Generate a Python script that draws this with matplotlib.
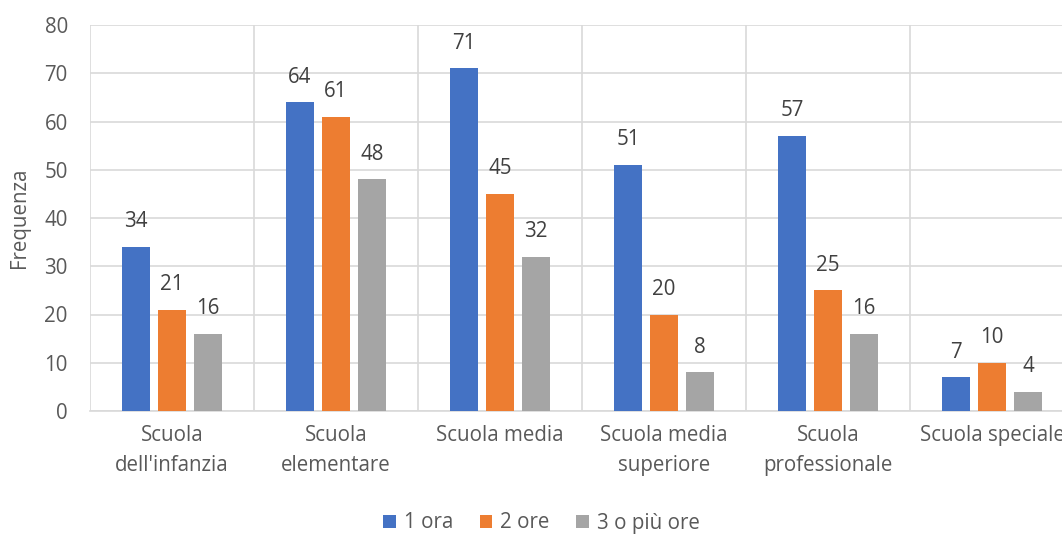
import matplotlib.pyplot as plt
import numpy as np

categories = [
    "Scuola\ndell'infanzia",
    "Scuola\nelementare",
    "Scuola media",
    "Scuola media\nsuperiore",
    "Scuola\nprofessionale",
    "Scuola speciale",
]
series_names = ["1 ora", "2 ore", "3 o più ore"]
one_hour = [34, 64, 71, 51, 57, 7]
two_hours = [21, 61, 45, 20, 25, 10]
three_plus = [16, 48, 32, 8, 16, 4]
y_ticks = [0, 10, 20, 30, 40, 50, 60, 70, 80]

COLORS = ["#4472C4", "#ED7D31", "#A5A5A5"]
TEXT = "#595959"
GRID = "#D9D9D9"
FS = 14.8

plt.rcParams["font.family"] = ["Open Sans", "DejaVu Sans"]

fig = plt.figure(figsize=(10.62, 5.35), dpi=100)
# axes run past the right edge, as in the cropped original
ax = fig.add_axes([90 / 1062, 124 / 535, 984 / 1062, 386 / 535])

x = np.arange(len(categories))
width = 28 / 164
step = 36 / 164
for i, (name, vals) in enumerate(zip(series_names, [one_hour, two_hours, three_plus])):
    pos = x + (i - 1) * step
    bars = ax.bar(pos, vals, width=width, color=COLORS[i], label=name, zorder=3)
    for b, v in zip(bars, vals):
        ax.text(b.get_x() + b.get_width() / 2, v + 3.0, str(v),
                ha="center", va="bottom", fontsize=FS, color="#404040")

ax.set_xlim(-0.5, len(categories) - 0.5)
ax.set_ylim(0, 80)
ax.set_yticks(y_ticks)
ax.yaxis.grid(True, color=GRID, linewidth=1.2, zorder=0)
for sep in np.arange(-0.5, len(categories), 1.0):
    ax.axvline(sep, color=GRID, linewidth=1.2, zorder=0)

ax.set_xticks(x)
ax.set_xticklabels(categories, fontsize=FS, color=TEXT, linespacing=1.6)
ax.tick_params(axis="y", labelsize=FS, labelcolor=TEXT, length=0, pad=16)
ax.tick_params(axis="x", length=0, pad=10)
for s in ["top", "right", "left"]:
    ax.spines[s].set_visible(False)
ax.spines["bottom"].set_color(GRID)
ax.spines["bottom"].set_linewidth(1.2)

ax.set_ylabel("Frequenza", fontsize=FS, color=TEXT)
ax.yaxis.set_label_coords(-0.061, 0.5)

leg = fig.legend(loc="center", ncol=3, frameon=False,
                 fontsize=FS, labelcolor=TEXT, handlelength=0.6, handleheight=0.6,
                 handletextpad=0.4, columnspacing=1.3)
leg.set_bbox_to_anchor((0.51, 12 / 535), transform=fig.transFigure)

fig.savefig("out.png", dpi=100)
